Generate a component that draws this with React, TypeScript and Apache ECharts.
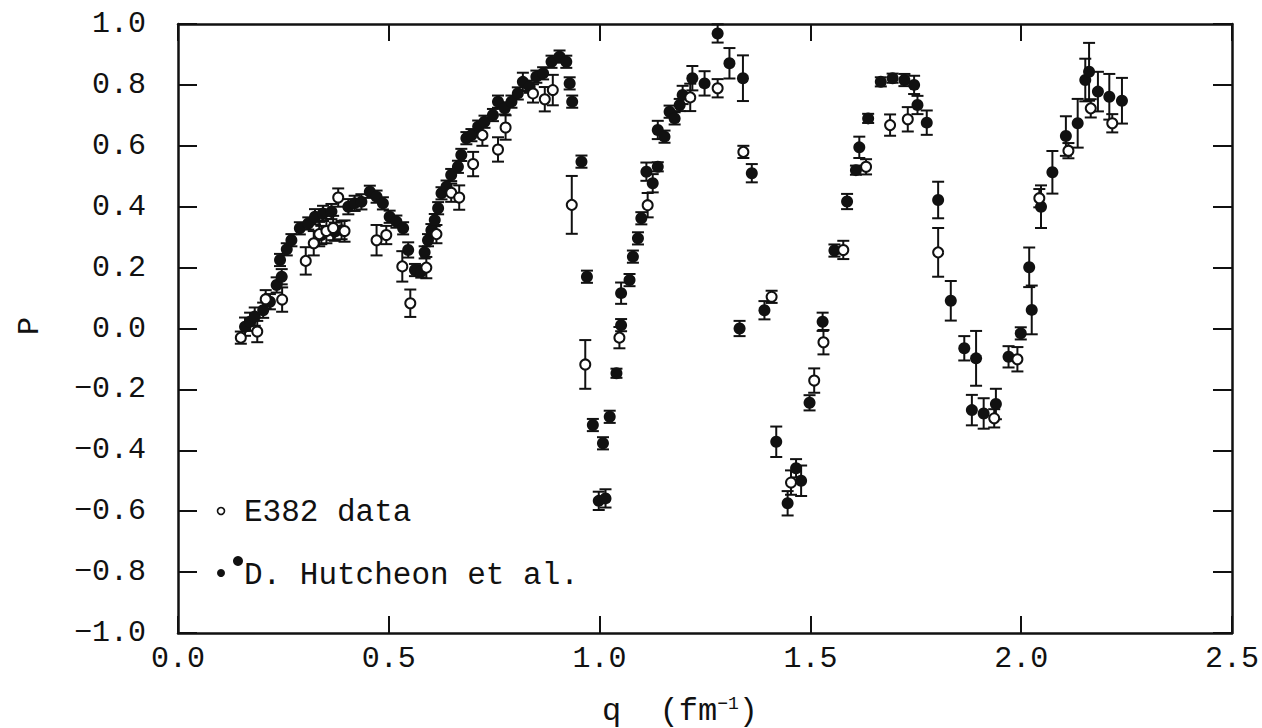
import React, { useEffect, useRef } from "react";
import * as echarts from "echarts";

// E382 data (open circles): q, P, error
const openQ = [0.149, 0.188, 0.208, 0.247, 0.303, 0.322, 0.335, 0.352, 0.368, 0.38, 0.395, 0.471, 0.494, 0.532, 0.551, 0.589, 0.613, 0.648, 0.667, 0.70, 0.722, 0.759, 0.777, 0.842, 0.87, 0.889, 0.934, 0.966, 1.047, 1.114, 1.215, 1.28, 1.341, 1.408, 1.454, 1.509, 1.531, 1.578, 1.632, 1.689, 1.731, 1.803, 1.936, 1.991, 2.043, 2.112, 2.165, 2.216];
const openP = [-0.03, -0.01, 0.096, 0.095, 0.222, 0.28, 0.31, 0.32, 0.33, 0.43, 0.32, 0.29, 0.307, 0.204, 0.083, 0.2, 0.31, 0.446, 0.43, 0.54, 0.635, 0.588, 0.66, 0.772, 0.753, 0.783, 0.406, -0.118, -0.03, 0.405, 0.759, 0.789, 0.58, 0.104, -0.506, -0.171, -0.045, 0.258, 0.531, 0.668, 0.687, 0.25, -0.295, -0.101, 0.428, 0.584, 0.723, 0.674];
const openErr = [0.02, 0.035, 0.03, 0.04, 0.045, 0.04, 0.04, 0.04, 0.04, 0.03, 0.035, 0.05, 0.03, 0.05, 0.045, 0.035, 0.03, 0.03, 0.04, 0.04, 0.035, 0.04, 0.04, 0.03, 0.04, 0.05, 0.095, 0.08, 0.035, 0.04, 0.045, 0.03, 0.02, 0.02, 0.04, 0.04, 0.04, 0.03, 0.025, 0.035, 0.04, 0.08, 0.03, 0.04, 0.03, 0.025, 0.03, 0.03];

// D. Hutcheon et al. (filled circles): q, P, error
const fillQ = [0.159, 0.171, 0.182, 0.202, 0.218, 0.234, 0.246, 0.242, 0.258, 0.269, 0.289, 0.309, 0.325, 0.344, 0.364, 0.34, 0.372, 0.388, 0.404, 0.419, 0.435, 0.455, 0.471, 0.486, 0.502, 0.518, 0.534, 0.546, 0.562, 0.577, 0.585, 0.593, 0.601, 0.609, 0.617, 0.625, 0.637, 0.648, 0.664, 0.672, 0.684, 0.696, 0.712, 0.727, 0.747, 0.759, 0.775, 0.791, 0.806, 0.818, 0.834, 0.85, 0.866, 0.886, 0.905, 0.921, 0.929, 0.935, 0.957, 0.97, 0.984, 0.998, 1.008, 1.014, 1.024, 1.04, 1.051, 1.051, 1.071, 1.079, 1.091, 1.099, 1.111, 1.126, 1.138, 1.138, 1.154, 1.166, 1.178, 1.19, 1.197, 1.22, 1.249, 1.28, 1.308, 1.34, 1.361, 1.332, 1.391, 1.419, 1.446, 1.466, 1.478, 1.498, 1.529, 1.557, 1.587, 1.608, 1.616, 1.637, 1.667, 1.695, 1.723, 1.746, 1.754, 1.776, 1.803, 1.833, 1.865, 1.893, 1.883, 1.911, 1.94, 1.97, 1.999, 2.025, 2.019, 2.047, 2.074, 2.106, 2.134, 2.152, 2.161, 2.182, 2.209, 2.239];
const fillP = [0.006, 0.022, 0.039, 0.06, 0.088, 0.143, 0.17, 0.225, 0.26, 0.29, 0.329, 0.345, 0.367, 0.378, 0.384, 0.307, 0.318, 0.323, 0.40, 0.411, 0.416, 0.449, 0.433, 0.411, 0.367, 0.351, 0.329, 0.258, 0.192, 0.187, 0.25, 0.29, 0.323, 0.356, 0.395, 0.444, 0.466, 0.504, 0.531, 0.57, 0.625, 0.635, 0.663, 0.679, 0.701, 0.745, 0.723, 0.745, 0.772, 0.81, 0.794, 0.827, 0.838, 0.876, 0.893, 0.876, 0.805, 0.745, 0.548, 0.17, -0.317, -0.566, -0.377, -0.558, -0.29, -0.147, 0.011, 0.116, 0.159, 0.236, 0.296, 0.362, 0.515, 0.477, 0.531, 0.652, 0.63, 0.712, 0.69, 0.734, 0.767, 0.822, 0.805, 0.969, 0.871, 0.822, 0.51, 0.0, 0.06, -0.372, -0.574, -0.459, -0.5, -0.244, 0.022, 0.256, 0.417, 0.52, 0.595, 0.69, 0.81, 0.822, 0.816, 0.8, 0.734, 0.676, 0.422, 0.091, -0.065, -0.098, -0.268, -0.279, -0.248, -0.093, -0.016, 0.061, 0.201, 0.40, 0.513, 0.632, 0.674, 0.816, 0.843, 0.778, 0.761, 0.748];
const fillErr = [0.03, 0.03, 0.03, 0.025, 0.025, 0.025, 0.025, 0.02, 0.02, 0.02, 0.02, 0.02, 0.025, 0.025, 0.025, 0.03, 0.03, 0.03, 0.025, 0.025, 0.025, 0.02, 0.02, 0.02, 0.02, 0.02, 0.02, 0.025, 0.02, 0.02, 0.02, 0.02, 0.02, 0.02, 0.02, 0.02, 0.02, 0.02, 0.02, 0.02, 0.02, 0.02, 0.02, 0.02, 0.02, 0.02, 0.02, 0.02, 0.02, 0.03, 0.02, 0.02, 0.02, 0.02, 0.02, 0.02, 0.02, 0.02, 0.02, 0.02, 0.02, 0.03, 0.02, 0.03, 0.02, 0.015, 0.02, 0.035, 0.02, 0.02, 0.02, 0.02, 0.03, 0.03, 0.015, 0.03, 0.02, 0.02, 0.02, 0.02, 0.03, 0.04, 0.04, 0.03, 0.05, 0.075, 0.03, 0.025, 0.03, 0.05, 0.04, 0.03, 0.05, 0.025, 0.03, 0.02, 0.025, 0.015, 0.035, 0.015, 0.015, 0.015, 0.02, 0.03, 0.03, 0.04, 0.06, 0.065, 0.04, 0.09, 0.05, 0.05, 0.05, 0.035, 0.02, 0.08, 0.065, 0.07, 0.07, 0.065, 0.08, 0.07, 0.095, 0.065, 0.075, 0.075];

const xTicks = { min: 0, max: 2.5, interval: 0.5 };
const yTicks = { min: -1, max: 1, interval: 0.2 };

const FONT = "'Liberation Mono', 'DejaVu Sans Mono', monospace";

function fmt(v: number) {
  const s = Math.abs(v) < 1e-9 ? "0.0" : v.toFixed(1);
  return s.replace("-", "\u2212");
}

function errorRender(params: any, api: any) {
  const x = api.value(0);
  const y = api.value(1);
  const e = api.value(2);
  const top = api.coord([x, y + e]);
  const bot = api.coord([x, y - e]);
  const cap = 6;
  const style = { stroke: "#111", lineWidth: 2, fill: "none" };
  return {
    type: "group",
    children: [
      { type: "line", shape: { x1: top[0], y1: top[1], x2: bot[0], y2: bot[1] }, style },
      { type: "line", shape: { x1: top[0] - cap, y1: top[1], x2: top[0] + cap, y2: top[1] }, style },
      { type: "line", shape: { x1: bot[0] - cap, y1: bot[1], x2: bot[0] + cap, y2: bot[1] }, style },
    ],
  };
}

export default function App() {
  const ref = useRef<HTMLDivElement>(null);
  useEffect(() => {
    if (!ref.current) return;
    const chart = echarts.init(ref.current, undefined, { renderer: "svg" });
    const openData = openQ.map((q, i) => [q, openP[i], openErr[i]]);
    const fillData = fillQ.map((q, i) => [q, fillP[i], fillErr[i]]);
    const axisLine = { show: true, onZero: false, lineStyle: { color: "#111", width: 2.5 } };
    const xBase = {
      type: "value",
      min: xTicks.min,
      max: xTicks.max,
      interval: xTicks.interval,
      axisLine,
      splitLine: { show: false },
      axisTick: { show: true, inside: true, length: 17, lineStyle: { color: "#111", width: 2 } },
    };
    const yBase = {
      type: "value",
      min: yTicks.min,
      max: yTicks.max,
      interval: yTicks.interval,
      axisLine,
      splitLine: { show: false },
      axisTick: { show: true, inside: true, length: 19, lineStyle: { color: "#111", width: 2 } },
    };
    chart.setOption({
      animation: false,
      backgroundColor: "#ffffff",
      grid: { left: 178, right: 29, top: 24, bottom: 95, containLabel: false },
      xAxis: [
        {
          ...xBase,
          position: "bottom",
          axisLabel: { show: true, fontFamily: FONT, fontSize: 30, color: "#111", margin: 11, formatter: fmt },
        },
        { ...xBase, position: "top", axisLabel: { show: false } },
      ],
      yAxis: [
        {
          ...yBase,
          position: "left",
          axisLabel: { show: true, fontFamily: FONT, fontSize: 30, color: "#111", margin: 32, formatter: fmt },
        },
        { ...yBase, position: "right", axisLabel: { show: false } },
      ],
      series: [
        {
          type: "custom",
          name: "errOpen",
          renderItem: errorRender,
          data: openData,
          z: 2,
          silent: true,
        },
        {
          type: "custom",
          name: "errFill",
          renderItem: errorRender,
          data: fillData,
          z: 2,
          silent: true,
        },
        {
          type: "scatter",
          name: "D. Hutcheon et al.",
          data: fillData.map((d) => [d[0], d[1]]),
          symbol: "circle",
          symbolSize: 12,
          itemStyle: { color: "#111", opacity: 1 },
          z: 3,
        },
        {
          type: "scatter",
          name: "E382 data",
          data: openData.map((d) => [d[0], d[1]]),
          symbol: "circle",
          symbolSize: 10,
          itemStyle: { color: "#ffffff", borderColor: "#111", borderWidth: 2, opacity: 1 },
          z: 4,
        },
      ],
      graphic: [
        {
          type: "text",
          x: 30,
          y: 326,
          rotation: Math.PI / 2,
          style: {
            text: "P",
            font: `30px ${FONT}`,
            fill: "#111",
            textAlign: "center",
            textVerticalAlign: "middle",
          },
        },
        {
          type: "text",
          x: 680,
          y: 711,
          style: {
            text: "{a|q  (fm}{s|\u22121}{a|)}",
            font: `32px ${FONT}`,
            fill: "#111",
            textAlign: "center",
            textVerticalAlign: "middle",
            rich: {
              a: { fontFamily: FONT, fontSize: 32, fill: "#111" },
              s: { fontFamily: FONT, fontSize: 18, fill: "#111", verticalAlign: "top", padding: [0, 0, 14, 0] },
            },
          },
        },
        {
          type: "circle",
          shape: { cx: 221, cy: 511, r: 3.5 },
          style: { fill: "#fff", stroke: "#111", lineWidth: 1.6 },
        },
        {
          type: "text",
          x: 244,
          y: 512,
          style: { text: "E382 data", font: `31px ${FONT}`, fill: "#111", textVerticalAlign: "middle" },
        },
        {
          type: "circle",
          shape: { cx: 221, cy: 573, r: 4 },
          style: { fill: "#111" },
        },
        {
          type: "circle",
          shape: { cx: 238, cy: 561, r: 5 },
          style: { fill: "#111" },
        },
        {
          type: "text",
          x: 244,
          y: 575,
          style: { text: "D. Hutcheon et al.", font: `31px ${FONT}`, fill: "#111", textVerticalAlign: "middle" },
        },
      ],
    });
    return () => chart.dispose();
  }, []);
  return (
    <div
      ref={ref}
      style={{ position: "absolute", left: 0, top: 0, width: 1262, height: 728, background: "#fff" }}
    />
  );
}
